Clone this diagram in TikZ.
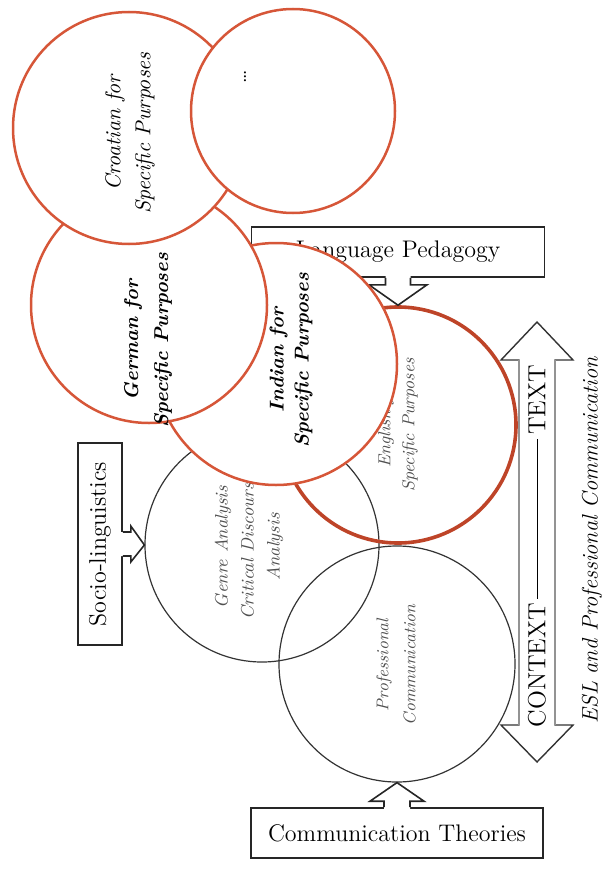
\documentclass[tikz,border=0pt]{standalone}
\usetikzlibrary{calc}
\definecolor{lspred}{RGB}{214,86,56}
\definecolor{espred}{RGB}{190,68,40}
\definecolor{softink}{RGB}{80,80,80}
\begin{document}
\begin{tikzpicture}[x=0.5pt,y=-0.5pt,
  boxline/.style={draw=black!85,line width=0.8pt,line join=miter},
  labelbox/.style={boxline,fill=white,inner sep=0pt,font=\fontsize{12}{14}\selectfont},
  field/.style={circle,draw=black!80,line width=0.6pt,inner sep=0pt,minimum size=#1},
  lsp/.style={circle,draw=lspred,line width=1.25pt,fill=white,inner sep=0pt,minimum size=#1},
  esp/.style={circle,draw=espred,line width=1.8pt,inner sep=0pt,minimum size=#1},
  vtext/.style={rotate=90,align=center,inner sep=0pt},
  lsptext/.style={vtext,font=\fontsize{10.8}{15}\selectfont\itshape},
  lspbold/.style={vtext,font=\fontsize{10}{15}\selectfont\bfseries\itshape},
  smalltext/.style={vtext,text=softink,font=\fontsize{8.7}{12}\selectfont\itshape},
]
\useasboundingbox (0,0) rectangle (606,872);

% context-text double arrow
\coordinate (dt) at (537,322);
\coordinate (db) at (537,762);
\filldraw[draw=black!80,fill=white,line width=0.7pt,line join=miter]
  (dt) -- ++(36,38) -- ++(-18,0) -- ($(db)+(18,-37)$) -- ++(18,0) -- (db)
  -- ++(-36,-37) -- ++(18,0) -- ($(dt)+(-18,38)$) -- ++(-18,0) -- cycle;
\draw[gray!85,line width=1.3pt] ($(dt)+(18,38)$) -- ($(db)+(18,-37)$);
\draw[gray!85,line width=1.3pt] ($(dt)+(-18,38)$) -- ($(db)+(-18,-37)$);
\node[vtext,font=\fontsize{12.4}{14}\selectfont] (ctx) at (537,546)
  {CONTEXT\,\rule[0.32em]{80pt}{0.5pt}\,TEXT};

% research fields
\node[field=117pt] (gen) at (262,545) {};
\node[field=118pt] (pro) at (397,664) {};
\node[smalltext,font=\fontsize{9}{13}\selectfont\itshape] (gent) at (249,547)
  {Genre Analysis\\Critical Discourse\\Analysis};
\node[smalltext,font=\fontsize{8.5}{13.5}\selectfont\itshape] (prot) at (396,665)
  {Professional\\Communication};

% English for Specific Purposes
\node[esp=118pt] (eng) at (398,425) {};
\node[smalltext] (engt) at (398,425) {English for\\Specific Purposes};

% Language Pedagogy box and pointer
\node[labelbox,minimum width=146.5pt,minimum height=25pt] (lp) at (398,252) {Language Pedagogy};
\fill[white] ([shift={(-12.5,-2)}]lp.south) -- ([shift={(-12.5,7)}]lp.south)
  -- ([shift={(-29,7)}]lp.south) -- (eng.north) -- ([shift={(29,7)}]lp.south)
  -- ([shift={(12.5,7)}]lp.south) -- ([shift={(12.5,-2)}]lp.south) -- cycle;
\draw[boxline] ([shift={(-12.5,0)}]lp.south) -- ([shift={(-12.5,7)}]lp.south)
  -- ([shift={(-29,7)}]lp.south) -- (eng.north) -- ([shift={(29,7)}]lp.south)
  -- ([shift={(12.5,7)}]lp.south) -- ([shift={(12.5,0)}]lp.south);

% languages for specific purposes
\node[lsp=121pt] (ind) at (276,364) {};
\node[lspbold,font=\fontsize{10}{12.5}\selectfont\bfseries\itshape] (indt) at (291,360)
  {Indian for\\Specific Purposes};
\node[lsp=118pt] (ger) at (149,305) {};
\node[lspbold] (gert) at (148,340) {German for\\Specific Purposes};
\node[lsp=116pt] (cro) at (129,128) {};
\node[lsptext] (crot) at (130,133) {Croatian for\\Specific Purposes};
\node[lsp=102pt] (more) at (293,111) {};
\node[vtext,font=\fontsize{10}{12}\selectfont] (moret) at (245,77) {\dots};

% Socio-linguistics box and pointer
\node[labelbox,minimum width=22pt,minimum height=101pt] (so) at (100,544)
  {\rotatebox{90}{Socio-linguistics}};
\fill[white] ([shift={(-2,-12)}]so.east) -- ([shift={(8,-12)}]so.east)
  -- ([shift={(8,-18)}]so.east) -- (gen.west) -- ([shift={(8,18)}]so.east)
  -- ([shift={(8,12)}]so.east) -- ([shift={(-2,12)}]so.east) -- cycle;
\draw[boxline] ([shift={(0,-12)}]so.east) -- ([shift={(8,-12)}]so.east)
  -- ([shift={(8,-18)}]so.east) -- (gen.west) -- ([shift={(8,18)}]so.east)
  -- ([shift={(8,12)}]so.east) -- ([shift={(0,12)}]so.east);

% Communication Theories box and pointer
\node[labelbox,minimum width=146pt,minimum height=25pt] (ct) at (397,833) {Communication Theories};
\fill[white] ([shift={(-13,2)}]ct.north) -- ([shift={(-13,-6)}]ct.north)
  -- ([shift={(-27,-6)}]ct.north) -- (pro.south) -- ([shift={(27,-6)}]ct.north)
  -- ([shift={(13,-6)}]ct.north) -- ([shift={(13,2)}]ct.north) -- cycle;
\draw[boxline] ([shift={(-13,0)}]ct.north) -- ([shift={(-13,-6)}]ct.north)
  -- ([shift={(-27,-6)}]ct.north) -- (pro.south) -- ([shift={(27,-6)}]ct.north)
  -- ([shift={(13,-6)}]ct.north) -- ([shift={(13,0)}]ct.north);

% overall caption
\node[vtext,font=\fontsize{11.2}{13}\selectfont\itshape] (esl) at (592,540)
  {ESL and Professional Communication};
\end{tikzpicture}
\end{document}
